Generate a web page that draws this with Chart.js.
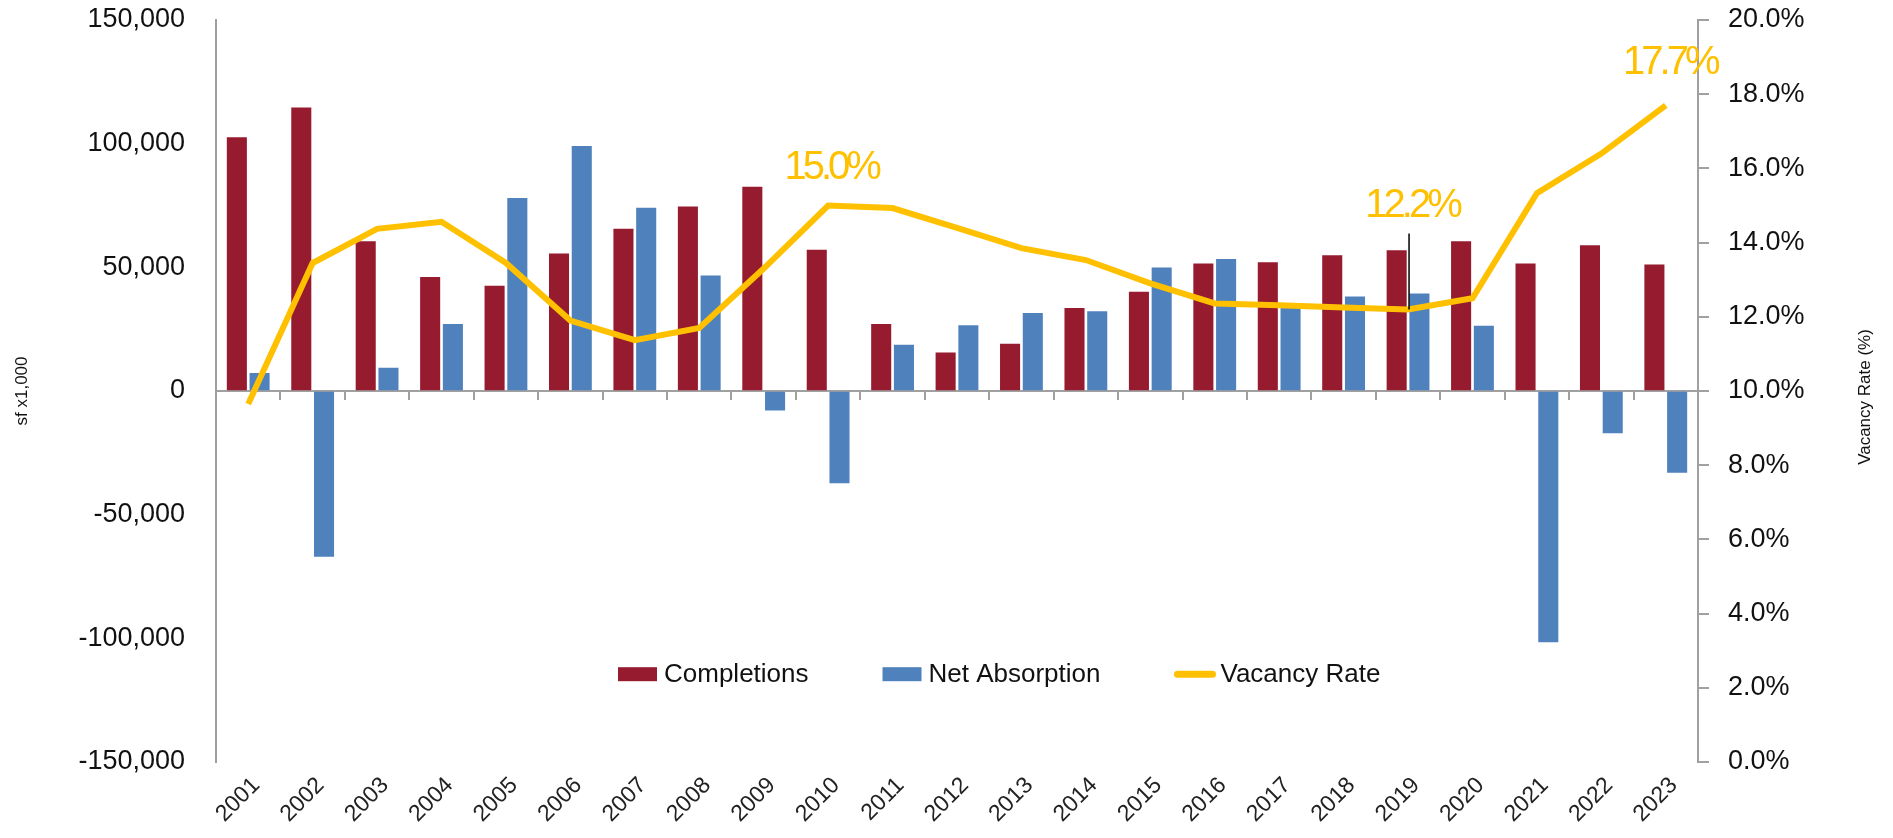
<!DOCTYPE html>
<html lang="en">
<head>
    <meta charset="UTF-8">
    <title>Completions, Net Absorption and Vacancy Rate</title>
    <script src="https://cdn.jsdelivr.net/npm/chart.js"></script>
    <style>
        body {
            margin: 0;
            padding: 0;
            background: #ffffff;
            overflow: hidden;
        }
        #wrap {
            width: 1893px;
            height: 838px;
        }
    </style>
</head>
<body>
    <div id="wrap"><canvas id="chart"></canvas></div>
    <script>
    // data
    const years = ['2001', '2002', '2003', '2004', '2005', '2006', '2007', '2008', '2009', '2010', '2011', '2012',
                   '2013', '2014', '2015', '2016', '2017', '2018', '2019', '2020', '2021', '2022', '2023'];
    const completions = [103000, 115000, 61000, 46500, 43000, 56000, 66000, 75000, 83000, 57500, 27500, 16000,
                         19500, 34000, 40500, 52000, 52500, 55300, 57300, 61000, 52000, 59300, 51500];
    const netAbsorption = [7700, -67400, 9800, 27500, 78400, 99500, 74500, 47100, -8300, -37700, 19100, 27000,
                           31900, 32600, 50300, 53800, 35000, 38600, 39800, 26800, -102000, -17500, -33500];
    const vacancyRate = [9.65, 13.45, 14.37, 14.56, 13.45, 11.9, 11.37, 11.7, 13.3, 15.0, 14.93, 14.4,
                         13.85, 13.53, 12.9, 12.36, 12.31, 12.25, 12.2, 12.5, 15.33, 16.4, 17.7];
    const calloutYears = ['2010', '2019', '2023'];

    const FONT = '"Liberation Sans", Arial, sans-serif';
    const RED = '#961b2f';
    const BLUE = '#4f81bd';
    const GOLD = '#ffc000';
    const AXIS = '#a0a0a0';

    // callout offsets (px above the point), leader line only for 2019
    const calloutStyle = {
        '2010': { dx: 3, dy: 38, leader: false },
        '2019': { dx: 4, dy: 103, leader: true },
        '2023': { dx: 4, dy: 42, leader: false }
    };

    const calloutPlugin = {
        id: 'callouts',
        afterDatasetsDraw(chart) {
            const meta = chart.getDatasetMeta(2);
            const ctx = chart.ctx;
            ctx.save();
            ctx.font = '40px ' + FONT;
            ctx.letterSpacing = '-4px';
            ctx.fillStyle = GOLD;
            ctx.textAlign = 'center';
            ctx.textBaseline = 'middle';
            calloutYears.forEach(y => {
                const i = years.indexOf(y);
                const pt = meta.data[i];
                const s = calloutStyle[y];
                const txt = vacancyRate[i].toFixed(1) + '%';
                ctx.fillText(txt, pt.x + s.dx, pt.y - s.dy);
                if (s.leader) {
                    ctx.strokeStyle = '#000';
                    ctx.lineWidth = 1.5;
                    ctx.beginPath();
                    ctx.moveTo(pt.x + 1, pt.y - s.dy + 27);
                    ctx.lineTo(pt.x + 1, pt.y);
                    ctx.stroke();
                }
            });
            ctx.restore();
        }
    };

    // legend drawn inside the plot, lower middle
    const legendPlugin = {
        id: 'innerLegend',
        afterDraw(chart) {
            const ctx = chart.ctx;
            const area = chart.chartArea;
            const yMid = chart.scales.y.getPixelForValue(-114500);
            let x = area.left + 402;
            ctx.save();
            ctx.font = '26px ' + FONT;
            ctx.textBaseline = 'middle';
            ctx.fillStyle = '#111';
            chart.data.datasets.forEach(ds => {
                if (ds.type === 'line') {
                    ctx.strokeStyle = ds.borderColor;
                    ctx.lineWidth = 7;
                    ctx.lineCap = 'round';
                    ctx.beginPath();
                    ctx.moveTo(x + 3, yMid);
                    ctx.lineTo(x + 38, yMid);
                    ctx.stroke();
                } else {
                    ctx.fillStyle = ds.backgroundColor;
                    ctx.fillRect(x, yMid - 7, 39, 14);
                }
                ctx.fillStyle = '#111';
                ctx.fillText(ds.label, x + 46, yMid + 1);
                x += 46 + ctx.measureText(ds.label).width + 74;
            });
            ctx.restore();
        }
    };

    // right axis title reads bottom-to-top like the left one
    const rightTitlePlugin = {
        id: 'rightTitle',
        afterDraw(chart) {
            const ctx = chart.ctx;
            const area = chart.chartArea;
            ctx.save();
            ctx.translate(1865, (area.top + area.bottom) / 2 + 6);
            ctx.rotate(-Math.PI / 2);
            ctx.font = '17px ' + FONT;
            ctx.fillStyle = '#111';
            ctx.textAlign = 'center';
            ctx.textBaseline = 'middle';
            ctx.fillText('Vacancy Rate (%)', 0, 0);
            ctx.restore();
        }
    };

    const ctx = document.getElementById('chart').getContext('2d');
    new Chart(ctx, {
        data: {
            labels: years,
            datasets: [
                {
                    type: 'bar',
                    label: 'Completions',
                    data: completions,
                    backgroundColor: RED,
                    borderColor: 'rgba(255,255,255,0.35)',
                    borderWidth: 1,
                    xAxisID: 'x',
                    yAxisID: 'y',
                    categoryPercentage: 0.706,
                    barPercentage: 0.97,
                    order: 2
                },
                {
                    type: 'bar',
                    label: 'Net Absorption',
                    data: netAbsorption,
                    backgroundColor: BLUE,
                    borderColor: 'rgba(255,255,255,0.35)',
                    borderWidth: 1,
                    xAxisID: 'x',
                    yAxisID: 'y',
                    categoryPercentage: 0.706,
                    barPercentage: 0.97,
                    order: 2
                },
                {
                    type: 'line',
                    label: 'Vacancy Rate',
                    data: vacancyRate,
                    borderColor: GOLD,
                    backgroundColor: GOLD,
                    borderWidth: 6,
                    pointRadius: 0,
                    tension: 0,
                    xAxisID: 'x',
                    yAxisID: 'y1',
                    order: 0
                }
            ]
        },
        options: {
            responsive: true,
            maintainAspectRatio: false,
            animation: false,
            layout: { padding: { top: 20, left: 0, right: 0, bottom: 0 } },
            plugins: {
                legend: { display: false },
                tooltip: { enabled: false }
            },
            scales: {
                x: {
                    type: 'category',
                    position: { y: 0 },
                    offset: true,
                    ticks: { display: false },
                    border: { display: true, color: AXIS, width: 2 },
                    grid: {
                        offset: true,
                        drawOnChartArea: false,
                        drawTicks: true,
                        tickLength: 8,
                        color: AXIS,
                        lineWidth: 2
                    },
                    afterFit: s => { s.height = 0; }
                },
                xb: {
                    type: 'category',
                    position: 'bottom',
                    offset: true,
                    border: { display: false },
                    grid: { display: false },
                    ticks: {
                        autoSkip: false,
                        minRotation: 45,
                        maxRotation: 45,
                        padding: 2,
                        labelOffset: 8,
                        color: '#222',
                        font: { family: FONT, size: 23 }
                    },
                    afterFit: s => { s.height = 76; }
                },
                y: {
                    position: 'left',
                    min: -150000,
                    max: 150000,
                    border: { display: true, color: AXIS, width: 2 },
                    grid: { drawOnChartArea: false, drawTicks: false },
                    ticks: {
                        stepSize: 50000,
                        padding: 31,
                        color: '#111',
                        font: { family: FONT, size: 27 },
                        callback: v => v.toLocaleString('en-US')
                    },
                    title: {
                        display: true,
                        text: 'sf x1,000',
                        color: '#111',
                        font: { family: FONT, size: 17 },
                        padding: { top: 12, bottom: 0 }
                    },
                    afterFit: s => { s.width = 216; s.paddingTop = 0; s.paddingBottom = 0; }
                },
                y1: {
                    position: 'right',
                    min: 0,
                    max: 20,
                    border: { display: true, color: AXIS, width: 2 },
                    grid: {
                        drawOnChartArea: false,
                        drawTicks: true,
                        tickLength: 11,
                        color: AXIS,
                        lineWidth: 2
                    },
                    ticks: {
                        stepSize: 2,
                        padding: 19,
                        color: '#111',
                        font: { family: FONT, size: 27 },
                        callback: v => v.toFixed(1) + '%'
                    },
                    afterFit: s => { s.width = 195; s.paddingTop = 0; s.paddingBottom = 0; }
                }
            }
        },
        plugins: [calloutPlugin, legendPlugin, rightTitlePlugin]
    });
    </script>
</body>
</html>
